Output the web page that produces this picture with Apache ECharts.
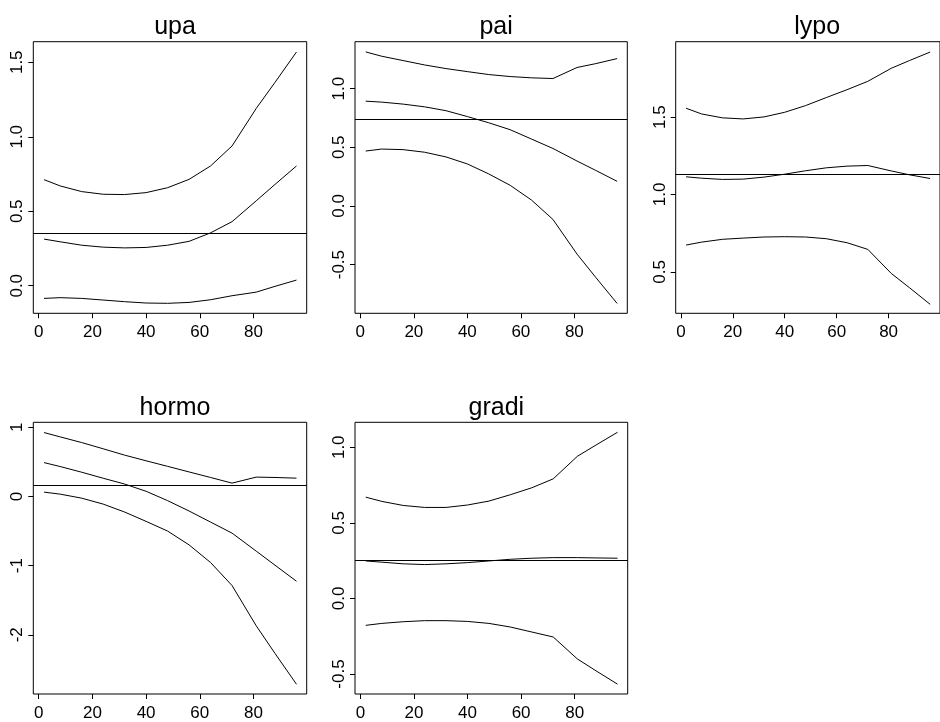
<!DOCTYPE html>
<html>
<head>
<meta charset="utf-8">
<script src="https://cdn.jsdelivr.net/npm/echarts@6/dist/echarts.min.js"></script>
<style>
html,body{margin:0;padding:0;background:#fff;}
#chart{width:940px;height:722px;}
</style>
</head>
<body>
<div id="chart"></div>
<script>
// ---- data ----
const xs = [2, 8, 16, 24, 32, 40, 48, 56, 64, 72, 81, 88, 96];
const xTicks = [0, 20, 40, 60, 80];
const titles = ["upa", "pai", "lypo", "hormo", "gradi"];

const upaUpper = [0.712, 0.670, 0.632, 0.614, 0.612, 0.625, 0.658, 0.714, 0.804, 0.938, 1.190, 1.365, 1.569];
const upaMid   = [0.313, 0.295, 0.272, 0.259, 0.254, 0.257, 0.272, 0.298, 0.355, 0.430, 0.570, 0.680, 0.804];
const upaLower = [-0.085, -0.080, -0.085, -0.096, -0.107, -0.116, -0.118, -0.112, -0.094, -0.067, -0.043, -0.004, 0.038];
const upaLine = 0.350;

const paiUpper = [1.313, 1.276, 1.239, 1.202, 1.171, 1.145, 1.120, 1.103, 1.092, 1.086, 1.180, 1.213, 1.256];
const paiMid   = [0.893, 0.885, 0.868, 0.845, 0.812, 0.762, 0.709, 0.650, 0.570, 0.490, 0.383, 0.303, 0.210];
const paiLower = [0.468, 0.485, 0.480, 0.458, 0.418, 0.358, 0.273, 0.176, 0.050, -0.115, -0.410, -0.609, -0.831];
const paiLine = 0.743;

const lypoUpper = [1.557, 1.520, 1.495, 1.488, 1.501, 1.531, 1.574, 1.626, 1.677, 1.731, 1.815, 1.865, 1.920];
const lypoMid   = [1.114, 1.105, 1.097, 1.099, 1.112, 1.131, 1.153, 1.172, 1.183, 1.187, 1.152, 1.127, 1.103];
const lypoLower = [0.673, 0.692, 0.710, 0.718, 0.725, 0.727, 0.725, 0.714, 0.688, 0.645, 0.490, 0.398, 0.290];
const lypoLine = 1.129;

const hormoUpper = [0.925, 0.862, 0.780, 0.690, 0.598, 0.516, 0.436, 0.355, 0.275, 0.193, 0.280, 0.275, 0.265];
const hormoMid   = [0.490, 0.433, 0.351, 0.264, 0.180, 0.075, -0.060, -0.210, -0.370, -0.530, -0.790, -0.994, -1.226];
const hormoLower = [0.063, 0.034, -0.024, -0.110, -0.225, -0.360, -0.500, -0.700, -0.955, -1.288, -1.870, -2.270, -2.716];
const hormoLine = 0.159;

const gradiUpper = [0.670, 0.642, 0.615, 0.602, 0.602, 0.618, 0.644, 0.686, 0.732, 0.791, 0.940, 1.015, 1.099];
const gradiMid   = [0.248, 0.240, 0.229, 0.224, 0.229, 0.237, 0.248, 0.259, 0.266, 0.270, 0.270, 0.268, 0.266];
const gradiLower = [-0.178, -0.165, -0.154, -0.147, -0.147, -0.152, -0.165, -0.189, -0.222, -0.255, -0.400, -0.479, -0.567];
const gradiLine = 0.253;

const upaTicks = [0, 0.5, 1.0, 1.5];
const paiTicks = [-0.5, 0, 0.5, 1.0];
const lypoTicks = [0.5, 1.0, 1.5];
const hormoTicks = [-2, -1, 0, 1];
const gradiTicks = [-0.5, 0, 0.5, 1.0];

// ---- layout ----
const panels = [
  {curves:[upaUpper, upaMid, upaLower], hline: upaLine, ticks: upaTicks, dec: 1, ymin:-0.185, ymax:1.638,
   left:33.3, top:41.7, width:273.4, height:271.6},
  {curves:[paiUpper, paiMid, paiLower], hline: paiLine, ticks: paiTicks, dec: 1, ymin:-0.915, ymax:1.400,
   left:355, top:41.7, width:272.3, height:271.6},
  {curves:[lypoUpper, lypoMid, lypoLower], hline: lypoLine, ticks: lypoTicks, dec: 1, ymin:0.232, ymax:1.987,
   left:675.7, top:41.7, width:273, height:271.6},
  {curves:[hormoUpper, hormoMid, hormoLower], hline: hormoLine, ticks: hormoTicks, dec: 0, ymin:-2.857, ymax:1.073,
   left:33.3, top:422.3, width:273.4, height:272},
  {curves:[gradiUpper, gradiMid, gradiLower], hline: gradiLine, ticks: gradiTicks, dec: 1, ymin:-0.632, ymax:1.165,
   left:355, top:422.3, width:272.7, height:272}
];

const FONT = '"Liberation Sans", Arial, Helvetica, sans-serif';
const grid = [], xAxis = [], yAxis = [], series = [], title = [];

panels.forEach((p, i) => {
  grid.push({left:p.left, top:p.top, width:p.width, height:p.height, show:true,
    borderColor:'#000', borderWidth:1, backgroundColor:'transparent', containLabel:false});
  xAxis.push({type:'value', gridIndex:i, min:-2, max:99.8, position:'bottom',
    axisLine:{show:false, onZero:false}, splitLine:{show:false},
    axisTick:{show:true, length:5, customValues:xTicks, lineStyle:{color:'#000', width:1}},
    axisLabel:{customValues:xTicks, color:'#000', fontSize:17, fontFamily:FONT, margin:11}});
  yAxis.push({type:'value', gridIndex:i, min:p.ymin, max:p.ymax, position:'left',
    axisLine:{show:false, onZero:false}, splitLine:{show:false},
    axisTick:{show:true, length:5, customValues:p.ticks, lineStyle:{color:'#000', width:1}},
    axisLabel:{customValues:p.ticks, rotate:90, color:'#000', fontSize:17, fontFamily:FONT, margin:7,
      formatter: v => (+v).toFixed(p.dec)}});
  title.push({text:titles[i], left:p.left + p.width/2, top:p.top - 32, textAlign:'center',
    textStyle:{color:'#000', fontSize:25, fontWeight:'normal', fontFamily:FONT}});
  p.curves.forEach((c, k) => {
    const s = {type:'line', xAxisIndex:i, yAxisIndex:i, showSymbol:false, symbol:'none',
      data: xs.map((x, j) => [x, c[j]]), lineStyle:{color:'#000', width:1}, silent:true, animation:false};
    if (k === 0) {
      s.markLine = {silent:true, symbol:['none','none'], label:{show:false}, animation:false,
        lineStyle:{color:'#000', width:1, type:'solid'}, data:[{yAxis:p.hline}]};
    }
    series.push(s);
  });
});

const chart = echarts.init(document.getElementById('chart'), null, {renderer:'canvas'});
chart.setOption({backgroundColor:'#fff', animation:false, title, grid, xAxis, yAxis, series});
</script>
</body>
</html>
